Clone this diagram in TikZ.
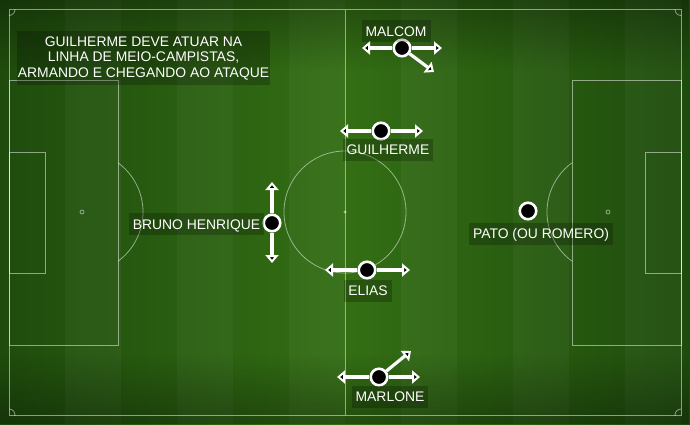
\documentclass[tikz,border=0pt]{standalone}
\usepackage{fontspec}
\setmainfont{Liberation Sans}
\usetikzlibrary{positioning,arrows.meta,fadings}
\definecolor{turflight}{RGB}{51,110,20}
\definecolor{turfdark}{RGB}{31,76,13}
\tikzset{
semithick,
pitch/.style={draw=white,draw opacity=0.5,line width=0.8pt},
player/.style={circle,draw=white,fill=black,line width=2.6pt,minimum size=16.5pt,inner sep=0pt},
move/.style={-{Triangle[width=13pt,length=8pt]},draw=white,line width=3.2pt},
box/.style={fill=black,fill opacity=0.22,text opacity=1,text=white,
  font=\fontsize{13.9}{15.5}\selectfont},
tag/.style={box,inner xsep=4pt,inner ysep=0pt,
  text height=10pt,text depth=0pt,minimum height=22pt},
}

\begin{document}
\begin{tikzpicture}[x=1pt,y=-1pt]
\useasboundingbox (0,0) rectangle (690,424);
% grass
\shade[left color=turfdark,right color=turfdark,middle color=turflight] (0,0) rectangle (690,424);
\foreach \i in {1,3,...,11}
  \fill[white,opacity=0.035] ({9+56*\i},0) rectangle ({65+56*\i},424);
\fill[black,opacity=0.3,path fading=south] (0,0) rectangle (690,70);
\fill[black,opacity=0.3,path fading=north] (0,354) rectangle (690,424);
% pitch lines
\draw[pitch] (9,9.5) rectangle (681,415);
\draw[pitch] (345,9.5) -- (345,415);
\draw[pitch] (345,212) circle[radius=61pt];
\fill[white,opacity=0.5] (345,212) circle[radius=1.6pt];
\draw[pitch] (9,80) rectangle (118,345);
\draw[pitch] (9,152) rectangle (45.5,273);
\draw[pitch] (82,212) circle[radius=2pt];
\draw[pitch] (572,80) rectangle (681,345);
\draw[pitch] (645,152) rectangle (681,273);
\draw[pitch] (608,212) circle[radius=2pt];
\begin{scope}
  \clip (118,0) rectangle (345,424);
  \draw[pitch] (82,212) circle[radius=61pt];
\end{scope}
\begin{scope}
  \clip (345,0) rectangle (572,424);
  \draw[pitch] (608,212) circle[radius=61pt];
\end{scope}
\begin{scope}
  \clip (9,9.5) rectangle (681,415);
  \foreach \cx/\cy in {9/9.5,681/9.5,9/415,681/415}
    \draw[pitch] (\cx,\cy) circle[radius=6pt];
\end{scope}

% note
\node[box,align=center,inner xsep=1pt,minimum height=54pt] (note) at (143.5,58)
  {GUILHERME DEVE ATUAR NA\\LINHA DE MEIO-CAMPISTAS,\\ARMANDO E CHEGANDO AO ATAQUE};

% players
\node[player] (malcom) at (402,48) {};
\node[player] (guilherme) at (381,131) {};
\node[player] (bruno) at (272,223) {};
\node[player] (elias) at (367,270) {};
\node[player] (pato) at (528,211) {};
\node[player] (marlone) at (379,377) {};

\node[tag,above=-4pt of malcom,xshift=-6pt] (malcomtag) {MALCOM};
\node[tag,below=-2pt of guilherme,xshift=7pt] (guilhermetag) {GUILHERME};
\node[tag,left=-2pt of bruno,yshift=-1pt] (brunotag) {BRUNO HENRIQUE};
\node[tag,below=0pt of elias,xshift=1pt] (eliastag) {ELIAS};
\node[tag,below=2pt of pato,xshift=13pt] (patotag) {PATO (OU ROMERO)};
\node[tag,below=-1pt of marlone,xshift=11pt] (marlonetag) {MARLONE};

% runs
\coordinate (malcomL) at (362,48);
\coordinate (malcomR) at (442,48);
\coordinate (malcomD) at (434,72);
\coordinate (guilhermeL) at (340,131);
\coordinate (guilhermeR) at (423,131);
\coordinate (brunoU) at (272,182);
\coordinate (brunoD) at (272,263);
\coordinate (eliasL) at (325,270);
\coordinate (eliasR) at (410,270);
\coordinate (marloneL) at (337,377);
\coordinate (marloneR) at (420,377);
\coordinate (marloneU) at (411,351);
\path[move]
  (malcom) edge (malcomL) edge (malcomR) edge (malcomD)
  (guilherme) edge (guilhermeL) edge (guilhermeR)
  (bruno) edge (brunoU) edge (brunoD)
  (elias) edge (eliasL) edge (eliasR)
  (marlone) edge (marloneL) edge (marloneR) edge (marloneU);
\end{tikzpicture}
\end{document}
